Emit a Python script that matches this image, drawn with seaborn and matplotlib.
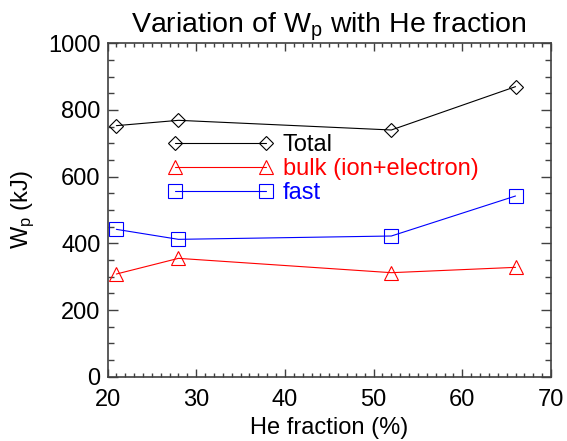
import numpy as np
import pandas as pd
import matplotlib
matplotlib.use("Agg")
import matplotlib.pyplot as plt
import seaborn as sns

he_fraction = [21, 28, 52, 66]
total = [753, 769, 740, 870]
bulk = [308, 355, 312, 328]
fast = [442, 412, 422, 542]
labels = ["Total", "bulk (ion+electron)", "fast"]
colors = ["black", "red", "blue"]
markers = ["D", "^", "s"]

sns.set_style("ticks", rc={
    "xtick.direction": "in", "ytick.direction": "in",
    "xtick.top": True, "ytick.right": True,
    "xtick.bottom": True, "ytick.left": True,
    "xtick.major.size": 6, "xtick.minor.size": 3,
    "ytick.major.size": 7, "ytick.minor.size": 4,
    "xtick.color": "#404040", "ytick.color": "#404040",
    "text.color": "black", "axes.labelcolor": "black",
})
plt.rcParams['font.family'] = ['Liberation Sans', 'DejaVu Sans']
plt.rcParams['mathtext.fontset'] = 'custom'
plt.rcParams['mathtext.rm'] = 'Liberation Sans'
plt.rcParams['mathtext.it'] = 'Liberation Sans'

fig = plt.figure(figsize=(5.67, 4.41), dpi=100)
ax = fig.add_axes([0.1896, 0.1458, 0.7822, 0.756])

series = [total, bulk, fast]
msizes = [7.0, 9.5, 9.5]
for vals, lab, c, m, ms in zip(series, labels, colors, markers, msizes):
    sns.lineplot(x=he_fraction, y=vals, ax=ax, color=c, marker=m, markersize=ms,
                 markerfacecolor='none', markeredgecolor=c, markeredgewidth=0.8,
                 linewidth=0.8, label=lab)

ax.set_xlim(20, 70)
ax.set_ylim(0, 1000)
ax.set_xticks([20, 30, 40, 50, 60, 70])
ax.set_yticks([0, 200, 400, 600, 800, 1000])
ax.xaxis.set_minor_locator(matplotlib.ticker.MultipleLocator(1))
ax.yaxis.set_minor_locator(matplotlib.ticker.MultipleLocator(50))
ax.tick_params(axis='both', which='both', direction='in', top=True, right=True,
               bottom=True, left=True, color='#404040', labelcolor='black',
               labelsize=17, width=1.0)
ax.tick_params(axis='y', which='major', length=7, pad=5)
ax.tick_params(axis='y', which='minor', length=4)
ax.tick_params(axis='x', which='major', length=6, pad=9)
ax.tick_params(axis='x', which='minor', length=3)
for s in ax.spines.values():
    s.set_color('#404040')
    s.set_linewidth(1.2)

ax.set_xlabel("He fraction (%)", fontsize=17, labelpad=4, color='black')
ax.set_ylabel("W$_\\mathregular{p}$ (kJ)", fontsize=17, labelpad=8, color='black')
ax.set_title("Variation of W$_\\mathregular{p}$ with He fraction", fontsize=20.5,
             pad=5, color='black')

leg = ax.legend(loc='upper left', bbox_to_anchor=(0.115, 0.755), frameon=False,
                numpoints=2, handlelength=4.46, handletextpad=0.4,
                labelspacing=0.085, fontsize=17, labelcolor='linecolor',
                borderaxespad=0)

fig.savefig("out.png", dpi=100)
